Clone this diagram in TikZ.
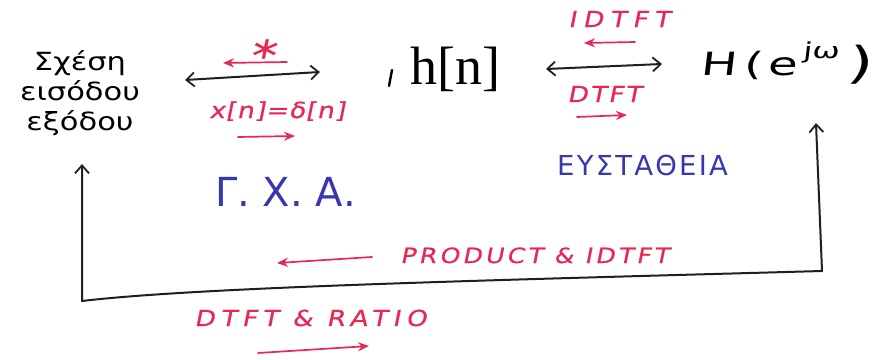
\documentclass[tikz,border=0pt]{standalone}
\usepackage{fontspec}
\usetikzlibrary{arrows.meta}
\setmainfont{Liberation Serif}
\newfontfamily\handfont[FakeStretch=1.22]{DejaVu Sans}
\newfontfamily\redfont[FakeSlant=0.2,FakeStretch=1.2,FakeBold=0.6]{DejaVu Sans}
\newfontfamily\bluefont{DejaVu Sans}
\newfontfamily\mathhand[FakeSlant=0.12,FakeStretch=1.5]{DejaVu Sans}
\definecolor{penred}{RGB}{232,40,82}
\definecolor{penblue}{RGB}{55,55,175}
\begin{document}
\begin{tikzpicture}[x=1pt,y=-1pt,
  blackpen/.style={line width=2pt, draw=black!88, line cap=round, line join=round},
  barbs/.style={blackpen, {Straight Barb[length=8pt,width=14pt,line width=1.8pt]}-{Straight Barb[length=8pt,width=14pt,line width=1.8pt]}},
  redarrow/.style={line width=1.7pt, draw=penred, line cap=round, -{Stealth[length=11pt,width=9pt]}},
  redtxt/.style={text=penred, inner sep=0pt, font=\redfont\fontsize{22}{22}\selectfont},
  bluetxt/.style={text=penblue, inner sep=0pt},
]
\useasboundingbox (0,0) rectangle (876,359);

% main nodes
\node[inner sep=0pt, align=center, font=\handfont\fontsize{25}{30}\selectfont] (sxesi) at (80,93) {Σχέση\\εισόδου\\εξόδου};
\node[anchor=base, inner sep=0pt, font=\fontsize{54}{54}\selectfont] (hn) at (455,84) {h[n]};
\node[anchor=base west, inner sep=0pt, font=\mathhand\fontsize{32}{32}\selectfont] (H) at (700,75)
  {H\kern7pt(\kern6pt e\kern5pt\raisebox{17pt}{\fontsize{22}{22}\selectfont jω}\kern7pt\raisebox{-3pt}{\fontsize{44}{44}\selectfont )}};

% blue notes
\node[bluetxt, anchor=base west, font=\bluefont\fontsize{40}{40}\selectfont] (gxa) at (215,206) {Γ. Χ. Α.};
\node[bluetxt, anchor=base west, font=\bluefont\fontsize{27.5}{27.5}\selectfont\addfontfeature{LetterSpace=8}] (eys) at (557,175) {ΕΥΣΤΑΘΕΙΑ};

% top-left double arrow and labels
\coordinate (a1l) at (185,80);
\coordinate (a1r) at (320,72);
\draw[barbs] (a1l) -- (a1r);
\node[redtxt, font=\redfont\fontsize{42}{42}\selectfont] (star) at (261,55) {*};
\coordinate (s1t) at (287,62);
\coordinate (s1h) at (223,63);
\draw[redarrow] (s1t) -- (s1h);
\node[redtxt, anchor=base west, font=\redfont\fontsize{22}{22}\selectfont\addfontfeature{LetterSpace=4}] (xd) at (209,118) {x[n]=δ[n]};
\coordinate (r1t) at (238,137);
\coordinate (r1h) at (295,136);
\draw[redarrow] (r1t) -- (r1h);

% stray mark
\coordinate (m1) at (392,70);
\coordinate (m2) at (389,86);
\draw[line width=2.4pt, line cap=round] (m1) -- (m2);

% top-right double arrow and labels
\coordinate (a2l) at (546,69);
\coordinate (a2r) at (662,64);
\draw[barbs] (a2l) -- (a2r);
\node[redtxt, anchor=base west, font=\redfont\fontsize{22}{22}\selectfont\addfontfeature{LetterSpace=30}] (idtft) at (568,27) {IDTFT};
\coordinate (s2t) at (635,42);
\coordinate (s2h) at (584,43);
\draw[redarrow] (s2t) -- (s2h);
\node[redtxt, anchor=base west, font=\redfont\fontsize{22}{22}\selectfont\addfontfeature{LetterSpace=10}] (dtft) at (567,102) {DTFT};
\coordinate (r2t) at (577,117);
\coordinate (r2h) at (627,115);
\draw[redarrow] (r2t) -- (r2h);

% feedback loop
\coordinate (rt) at (816,123);
\coordinate (rb) at (822,271);
\coordinate (lb) at (82,301);
\coordinate (lt) at (82,164);
\draw[blackpen, {Straight Barb[length=8pt,width=14pt,line width=1.8pt]}-{Straight Barb[length=8pt,width=14pt,line width=1.8pt]}]
  (rt) -- (rb) .. controls (500,280) and (200,287) .. (lb) -- (lt);

% bottom labels
\node[redtxt, anchor=base west, font=\redfont\fontsize{21}{21}\selectfont\addfontfeature{LetterSpace=15}] (prod) at (400,263) {PRODUCT \& IDTFT};
\coordinate (s3t) at (372,257);
\coordinate (s3h) at (277,263);
\draw[redarrow] (s3t) -- (s3h);
\node[redtxt, anchor=base west, font=\redfont\fontsize{22}{22}\selectfont\addfontfeature{LetterSpace=25}] (ratio) at (194,326) {DTFT \& RATIO};
\coordinate (r3t) at (258,353);
\coordinate (r3h) at (369,346);
\draw[redarrow] (r3t) -- (r3h);
\end{tikzpicture}
\end{document}
